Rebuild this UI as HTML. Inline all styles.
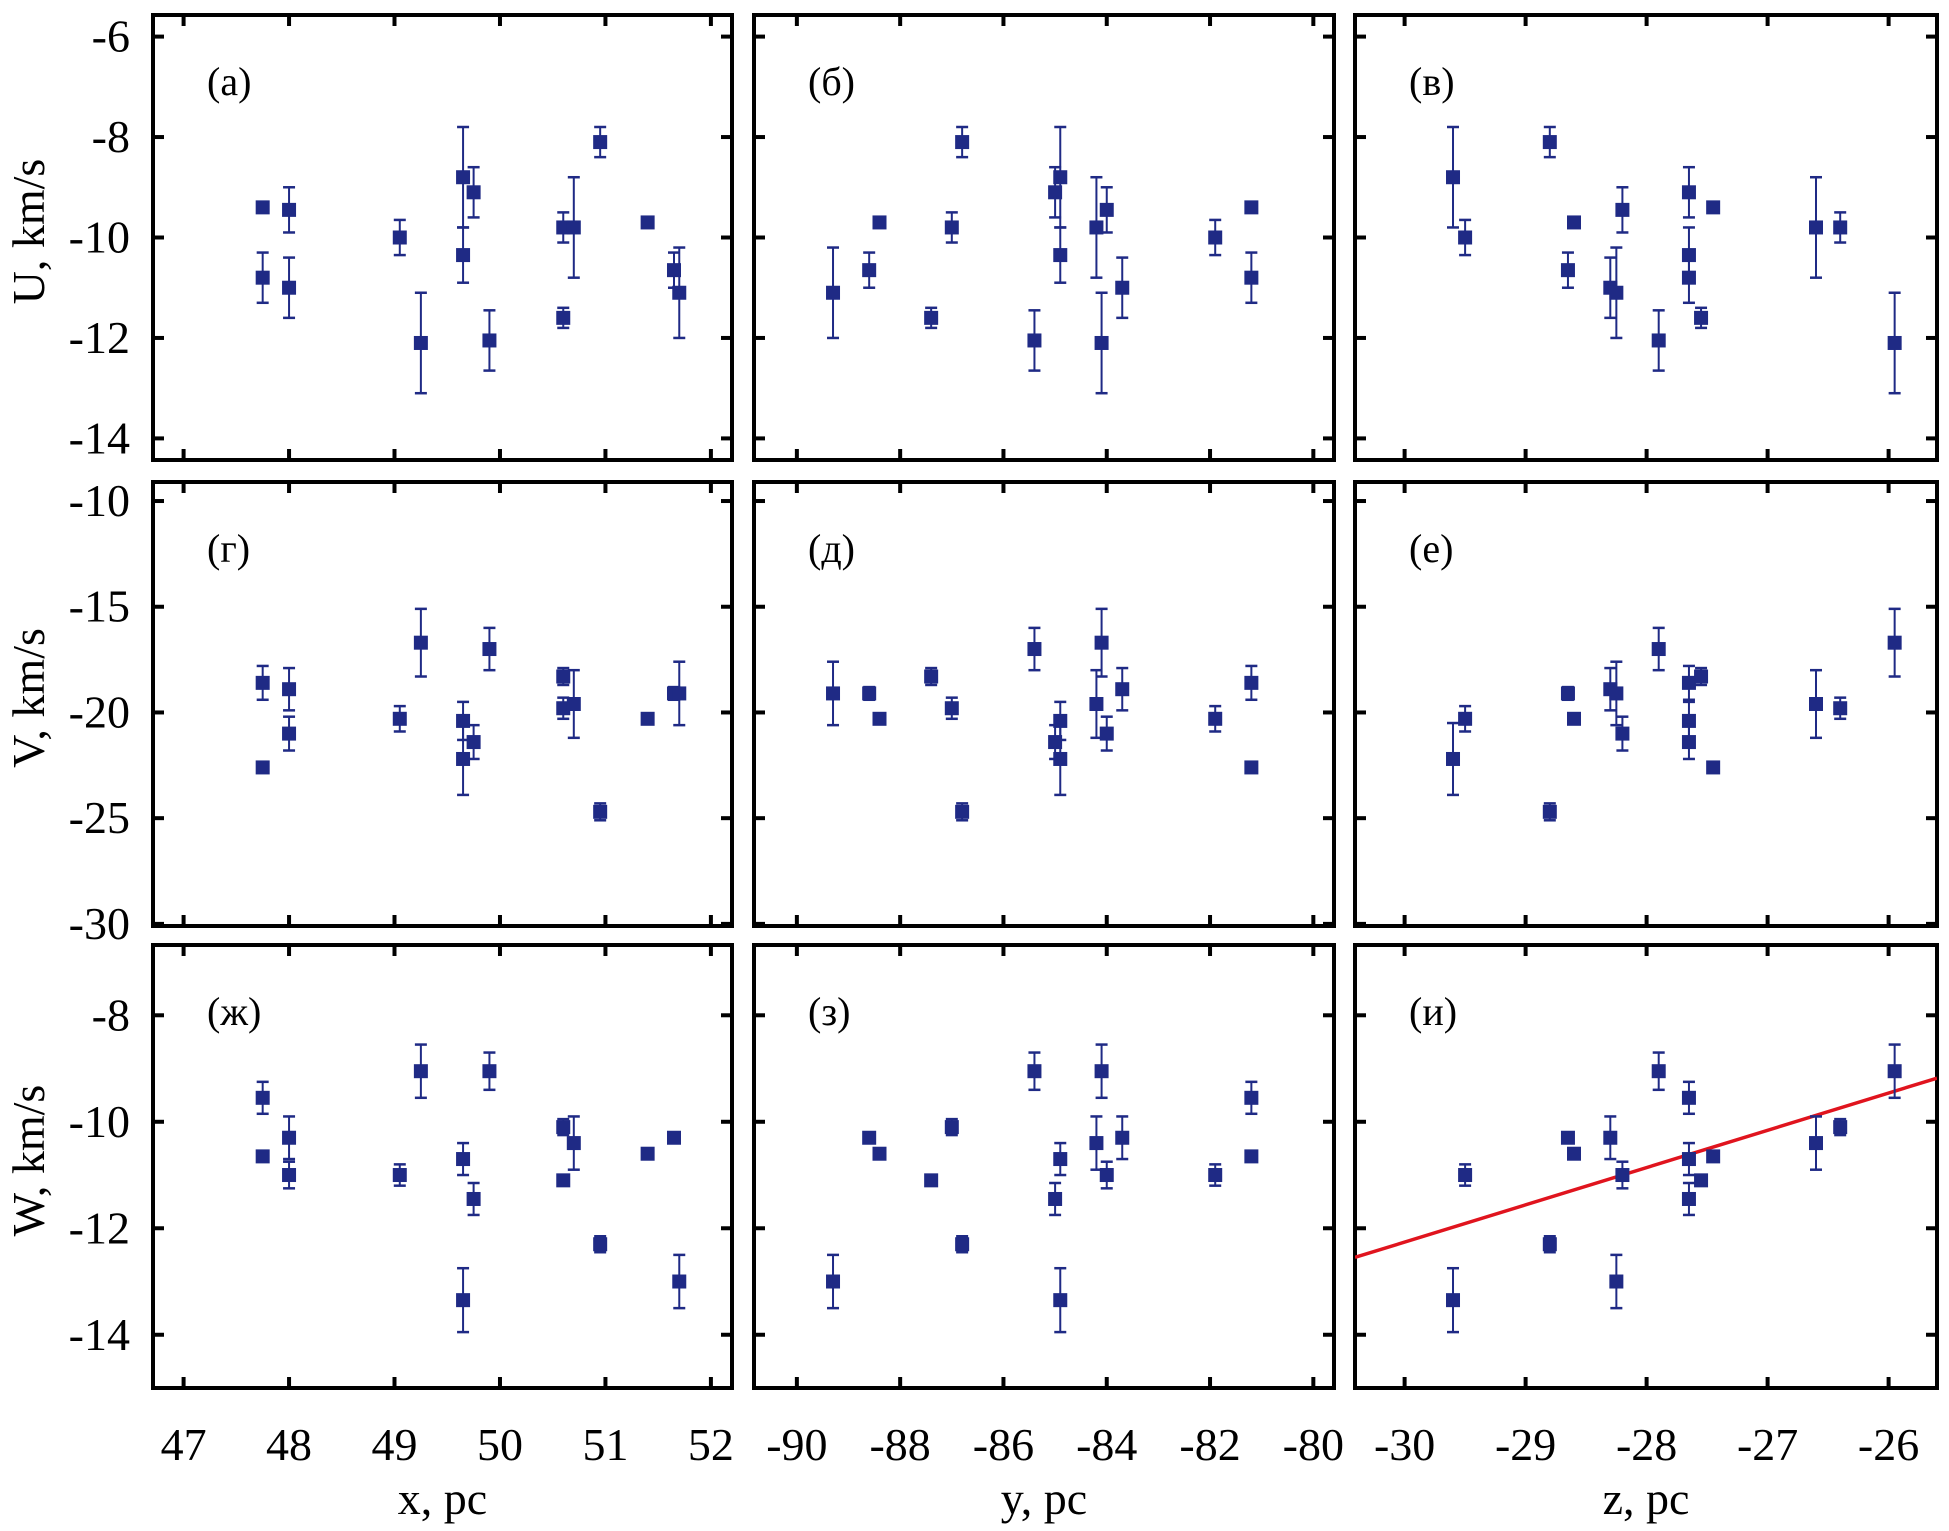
<!DOCTYPE html>
<html><head><meta charset="utf-8"><style>
html,body{margin:0;padding:0;background:#fff}
svg{display:block}
svg text{font-family:"Liberation Serif","DejaVu Serif",serif;fill:#000}
</style></head><body>
<svg id="chart" width="1949" height="1531" viewBox="0 0 1949 1531" xmlns="http://www.w3.org/2000/svg" font-family="Liberation Serif, DejaVu Serif, serif"></svg>
<script>
// star positions (pc)
const posX = [47.75,47.75,48.0,48.0,49.05,49.25,49.65,49.65,49.75,49.9,50.6,50.6,50.7,50.95,51.4,51.65,51.7];
const posY = [-81.2,-81.2,-84.0,-83.7,-81.9,-84.1,-84.9,-84.9,-85.0,-85.4,-87.0,-87.4,-84.2,-86.8,-88.4,-88.6,-89.3];
const posZ = [-27.45,-27.65,-28.2,-28.3,-29.5,-25.95,-29.6,-27.65,-27.65,-27.9,-26.4,-27.55,-26.6,-28.8,-28.6,-28.65,-28.25];
// velocities (km/s) and errors
const velU = [-9.4,-10.8,-9.45,-11.0,-10.0,-12.1,-8.8,-10.35,-9.1,-12.05,-9.8,-11.6,-9.8,-8.1,-9.7,-10.65,-11.1];
const errU = [0.1,0.5,0.45,0.6,0.35,1.0,1.0,0.55,0.5,0.6,0.3,0.2,1.0,0.3,0.05,0.35,0.9];
const velV = [-22.6,-18.6,-21.0,-18.9,-20.3,-16.7,-22.2,-20.4,-21.4,-17.0,-19.8,-18.3,-19.6,-24.7,-20.3,-19.1,-19.1];
const errV = [0.1,0.8,0.8,1.0,0.6,1.6,1.7,0.9,0.8,1.0,0.5,0.4,1.6,0.4,0.1,0.3,1.5];
const velW = [-10.65,-9.55,-11.0,-10.3,-11.0,-9.05,-13.35,-10.7,-11.45,-9.05,-10.1,-11.1,-10.4,-12.3,-10.6,-10.3,-13.0];
const errW = [0.05,0.3,0.25,0.4,0.2,0.5,0.6,0.3,0.3,0.35,0.15,0.1,0.5,0.15,0.05,0.05,0.5];
// tick labels
const ticksX = [47,48,49,50,51,52];
const ticksY = [-90,-88,-86,-84,-82,-80];
const ticksZ = [-30,-29,-28,-27,-26];
const ticksU = [-6,-8,-10,-12,-14];
const ticksV = [-10,-15,-20,-25,-30];
const ticksW = [-8,-10,-12,-14];
// fit line W = a + b*z
const fitA = 8.74, fitB = 0.70;
const panelLabels = ["(а)","(б)","(в)","(г)","(д)","(е)","(ж)","(з)","(и)"];

const NS="http://www.w3.org/2000/svg";
const svg=document.getElementById('chart');
const FF="Liberation Serif, DejaVu Serif, serif";
function mk(tag,attrs,parent){const e=document.createElementNS(NS,tag);for(const k in attrs)e.setAttribute(k,attrs[k]);if(tag==='text')e.setAttribute('font-family',FF);(parent||svg).appendChild(e);return e;}

const cols=[{l:153,r:732,d0:46.71,d1:52.2,pos:posX,ticks:ticksX,title:"x, pc",name:"x"},
            {l:754,r:1334,d0:-90.83,d1:-79.6,pos:posY,ticks:ticksY,title:"y, pc",name:"y"},
            {l:1355,r:1937,d0:-30.41,d1:-25.6,pos:posZ,ticks:ticksZ,title:"z, pc",name:"z"}];
const rows=[{t:15,b:460,v0:-5.57,v1:-14.43,val:velU,err:errU,ticks:ticksU,title:"U, km/s",name:"u"},
            {t:482,b:926,v0:-9.1,v1:-30.1,val:velV,err:errV,ticks:ticksV,title:"V, km/s",name:"v"},
            {t:945,b:1388,v0:-6.68,v1:-15.0,val:velW,err:errW,ticks:ticksW,title:"W, km/s",name:"w"}];
const navy="#1f2a85";

rows.forEach((R,ri)=>{
  cols.forEach((C,ci)=>{
    const sx=v=>C.l+(v-C.d0)/(C.d1-C.d0)*(C.r-C.l);
    const sy=v=>R.t+(v-R.v0)/(R.v1-R.v0)*(R.b-R.t);
    const g=mk('g',{});
    
    
    const clipId='clip'+ri+ci;
    const cp=mk('clipPath',{id:clipId},g);
    mk('rect',{x:C.l,y:R.t,width:C.r-C.l,height:R.b-R.t},cp);
    C.ticks.forEach(t=>{
      const x=sx(t);
      const a=mk('line',{x1:x,y1:R.t,x2:x,y2:R.t+11,stroke:'#000','stroke-width':4},g);
       
      const b=mk('line',{x1:x,y1:R.b,x2:x,y2:R.b-11,stroke:'#000','stroke-width':4},g);
       
      if(ri===2){
        const tl=mk('text',{x:x,y:1460,'font-size':46,'text-anchor':'middle'},g);
         
        tl.textContent=String(t);
      }
    });
    R.ticks.forEach(t=>{
      const y=sy(t);
      const a=mk('line',{x1:C.l,y1:y,x2:C.l+11,y2:y,stroke:'#000','stroke-width':4},g);
       
      const b=mk('line',{x1:C.r,y1:y,x2:C.r-11,y2:y,stroke:'#000','stroke-width':4},g);
       
      if(ci===0){
        const tl=mk('text',{x:130,y:y+15,'font-size':46,'text-anchor':'end'},g);
         
        tl.textContent=String(t);
      }
    });
    const fr=mk('rect',{x:C.l,y:R.t,width:C.r-C.l,height:R.b-R.t,fill:'none',stroke:'#000','stroke-width':4},g);
     
    const lb=mk('text',{x:C.l+54,y:R.t+80,'font-size':40},g);
     
    lb.textContent=panelLabels[ri*3+ci];
    if(ri===2&&ci===2){
      const ln=mk('line',{x1:sx(C.d0),y1:sy(fitA+fitB*C.d0),x2:sx(C.d1),y2:sy(fitA+fitB*C.d1),stroke:'#e0141e','stroke-width':3.5,'clip-path':'url(#'+clipId+')'},g);
       
    }
    C.pos.forEach((p,i)=>{
      const x=sx(p), y=sy(R.val[i]);
      const y1=sy(R.val[i]+R.err[i]), y2=sy(R.val[i]-R.err[i]);
      const pg=mk('g',{},g);
       
      mk('line',{x1:x,y1:y1,x2:x,y2:y2,stroke:navy,'stroke-width':2},pg);
      mk('line',{x1:x-6,y1:y1,x2:x+6,y2:y1,stroke:navy,'stroke-width':2.5},pg);
      mk('line',{x1:x-6,y1:y2,x2:x+6,y2:y2,stroke:navy,'stroke-width':2.5},pg);
      mk('rect',{x:x-7,y:y-7,width:14,height:14,fill:navy},pg);
    });
  });
  const yc=(R.t+R.b)/2-6;
  const yt=mk('text',{x:0,y:0,'font-size':46,'text-anchor':'middle',transform:'translate(44,'+yc+') rotate(-90)'});
   
  yt.textContent=R.title;
});
cols.forEach(C=>{
  const xt=mk('text',{x:(C.l+C.r)/2,y:1514,'font-size':46,'text-anchor':'middle'});
   
  xt.textContent=C.title;
});
</script>
</body></html>
